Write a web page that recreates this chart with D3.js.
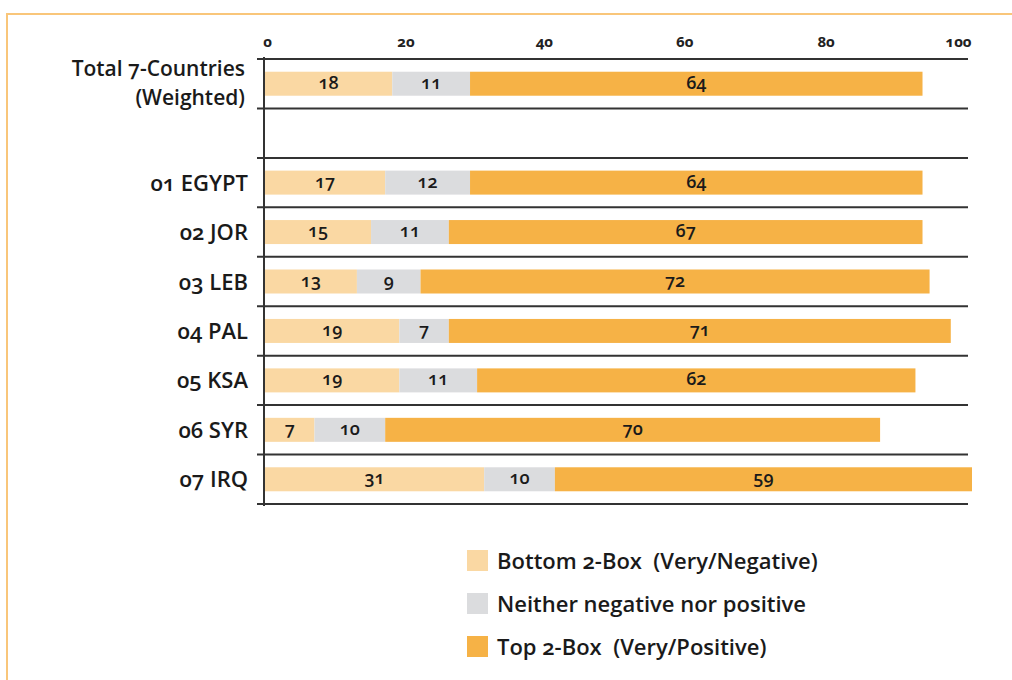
<!DOCTYPE html>
<html><head><meta charset="utf-8">
<script src="https://cdn.jsdelivr.net/npm/d3@7"></script>
<style>
body{margin:0;background:#fff;}
svg text{font-family:"Open Sans",Lato,sans-serif;font-variant-numeric:oldstyle-nums;font-feature-settings:"onum" 1;}
</style></head><body>
<svg id="c" width="1012" height="680"></svg>
<script>
const categories = ["Total 7-Countries|(Weighted)", "", "01 EGYPT", "02 JOR", "03 LEB", "04 PAL", "05 KSA", "06 SYR", "07 IRQ"];
const bottom2 = [18, null, 17, 15, 13, 19, 19, 7, 31];
const neither = [11, null, 12, 11, 9, 7, 11, 10, 10];
const top2 = [64, null, 64, 67, 72, 71, 62, 70, 59];
const ticks = [0, 20, 40, 60, 80, 100];
const seriesNames = ["Bottom 2-Box  (Very/Negative)", "Neither negative nor positive", "Top 2-Box  (Very/Positive)"];
const colors = ["#FAD8A3", "#DBDCDE", "#F6B246"];

const svg = d3.select("#c");
svg.append("path").attr("d","M7,680 V14 H1012").attr("fill","none").attr("stroke","#F9C67A").attr("stroke-width",2);

const x = d3.scaleLinear().domain([0,100]).range([265,972]);
const keys = categories.map((c,i)=>"r"+i);
const y = d3.scaleBand().domain(keys).range([59,504]).paddingInner(0).paddingOuter(0);
const bh = 24;

const lineYs = keys.map(k=>y(k)).concat([y(keys[keys.length-1])+y.bandwidth()]);
svg.selectAll("line.g").data(lineYs).enter().append("line")
  .attr("x1",257).attr("x2",968).attr("y1",d=>d).attr("y2",d=>d)
  .attr("stroke","#333").attr("stroke-width",2);
svg.append("line").attr("x1",264).attr("x2",264).attr("y1",57).attr("y2",506).attr("stroke","#333").attr("stroke-width",2);

const axis = d3.axisTop(x).tickValues(ticks).tickSize(0).tickPadding(0);
const ag = svg.append("g").attr("transform","translate(0,47)").call(axis);
ag.select(".domain").remove();
ag.selectAll("text").attr("font-size",15).attr("font-weight",700).attr("fill","#222")
  .attr("font-family",null)
  .attr("dx",(d,i)=>[2,-1,-4,-5,-5,-14][i]);

const series = [bottom2, neither, top2];
const rows = categories.map((c,i)=>({key:keys[i], label:c, vals:series.map(s=>s[i])}));

rows.forEach(r=>{
  if(r.vals[0]==null) return;
  let acc=0;
  const cy = y(r.key)+y.bandwidth()/2;
  r.vals.forEach((v,j)=>{
    const x0=x(acc), x1=x(acc+v);
    svg.append("rect").attr("x",x0).attr("y",cy-bh/2).attr("width",x1-x0).attr("height",bh).attr("fill",colors[j]);
    svg.append("text").attr("x",(x0+x1)/2).attr("y",cy+5).attr("text-anchor","middle")
      .attr("font-size",18).attr("font-weight",600).attr("fill","#1a1a1a").text(v);
    acc+=v;
  });
});

rows.forEach(r=>{
  if(!r.label) return;
  const cy = y(r.key)+y.bandwidth()/2;
  const parts = r.label.split("|");
  if(parts.length===1){
    svg.append("text").attr("text-anchor","end").attr("font-size",22).attr("font-weight",600).attr("fill","#1a1a1a")
      .attr("x",248).attr("y",cy+8).text(parts[0]);
  } else {
    parts.forEach((p,k)=>{
      svg.append("text").attr("text-anchor","end").attr("font-size",21).attr("font-weight",600).attr("fill","#1a1a1a")
        .attr("x",245).attr("y",cy-8+k*29).text(p);
    });
  }
});

const lg = svg.append("g");
seriesNames.forEach((n,i)=>{
  const ly = 561 + i*43;
  lg.append("rect").attr("x",467).attr("y",ly-11).attr("width",21).attr("height",21).attr("fill",colors[i]);
  lg.append("text").attr("x",497).attr("y",ly+8).attr("font-size",22).attr("font-weight",600).attr("fill","#1a1a1a")
    .attr("xml:space","preserve").style("white-space","pre").text(n);
});
</script>
</body></html>
